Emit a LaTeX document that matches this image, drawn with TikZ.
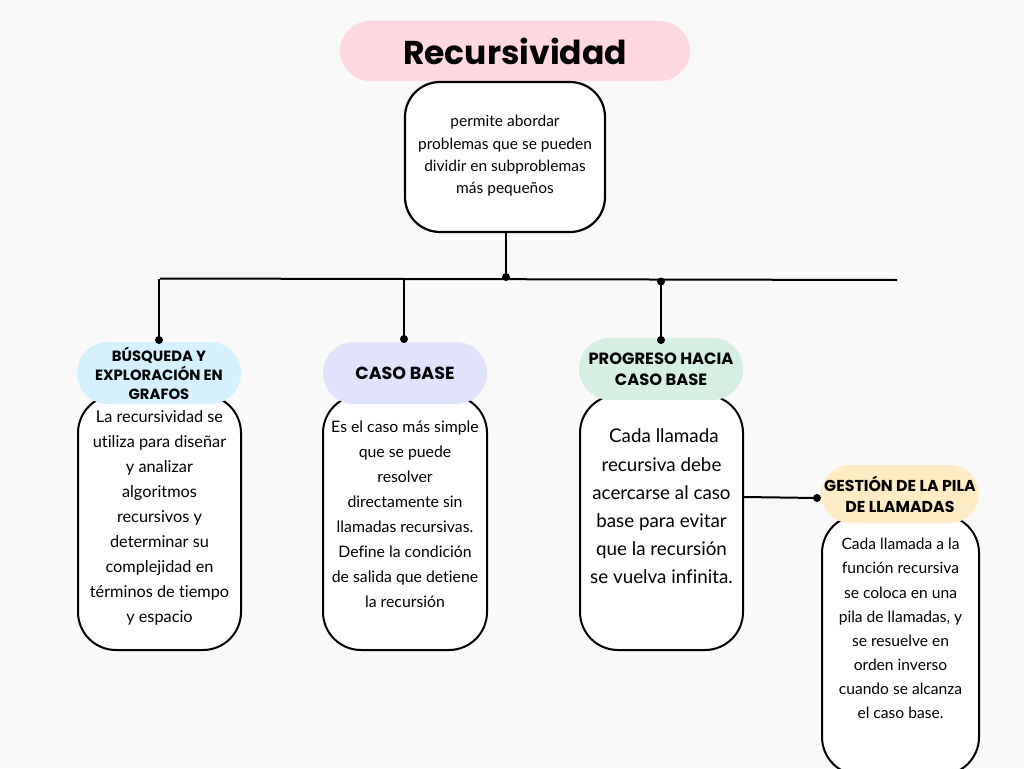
\documentclass[tikz,border=0pt]{standalone}
\usepackage{fontspec}
\setmainfont{Lato}[Ligatures=NoCommon]
\newfontfamily\headfont{Poppins}[BoldFont={* Bold}]
\usetikzlibrary{positioning}
\definecolor{bgc}{HTML}{F9F9F9}
\definecolor{pinkc}{HTML}{FFD9DF}
\definecolor{bluec}{HTML}{D4F1FD}
\definecolor{lavc}{HTML}{E1E2FB}
\definecolor{mintc}{HTML}{D6EFE3}
\definecolor{yelc}{HTML}{FEECC4}
\tikzset{
  bodybox/.style={draw=black, line width=2pt, fill=white, rounded corners=38pt, inner sep=0pt},
  pill/.style={draw=none, inner sep=0pt, align=center, font=\headfont\bfseries},
  btext/.style={align=center, inner sep=0pt},
  conn/.style={line width=2pt, black},
  dotc/.style={circle, fill=black, inner sep=0pt, minimum size=8pt},
}
\begin{document}
\begin{tikzpicture}[x=1pt,y=-1pt]
\useasboundingbox[fill=bgc] (0,0) rectangle (1024,768);
% title
\node[pill, fill=pinkc, rounded corners=30pt, minimum width=350pt, minimum height=60pt, font=\headfont\bfseries\fontsize{33}{40}\selectfont] (title) at (515,51) {Recursividad};
% top box
\node[bodybox, rounded corners=35pt, line width=2.2pt, minimum width=200pt, minimum height=150pt] (top) at (505,157) {};
\node[btext, font=\fontsize{15.5}{22.3}\selectfont] (toptext) at (505,156) {permite abordar\\problemas que se pueden\\dividir en subproblemas\\más pequeños};
% body boxes
\node[bodybox, minimum width=163pt, minimum height=255pt] (b1) at (159.5,522.5) {};
\node[bodybox, minimum width=164pt, minimum height=255pt] (b2) at (405,522.5) {};
\node[bodybox, minimum width=163pt, minimum height=255pt] (b3) at (661.5,522.5) {};
\node[bodybox, minimum width=157pt, minimum height=260pt] (b4) at (900.5,645) {};
% body texts
\node[btext, font=\fontsize{16.3}{25}\selectfont] (t1) at (159.5,518) {La recursividad se\\utiliza para diseñar\\y analizar\\algoritmos\\recursivos y\\determinar su\\complejidad en\\términos de tiempo\\y espacio};
\node[btext, font=\fontsize{15.8}{25}\selectfont] (t2) at (405,514.5) {Es el caso más simple\\que se puede\\resolver\\directamente sin\\llamadas recursivas.\\Define la condición\\de salida que detiene\\la recursión};
\node[btext, font=\fontsize{18.8}{28.2}\selectfont] (t3) at (661.5,506.5) {\ Cada llamada\\recursiva debe\\acercarse al caso\\base para evitar\\que la recursión\\se vuelva infinita.};
\node[btext, font=\fontsize{15.6}{24.1}\selectfont] (t4) at (900.5,628.5) {Cada llamada a la\\función recursiva\\se coloca en una\\pila de llamadas, y\\se resuelve en\\orden inverso\\cuando se alcanza\\el caso base.};
% header pills
\node[pill, fill=bluec, rounded corners=31pt, minimum width=164pt, minimum height=62pt, font=\headfont\bfseries\fontsize{14.8}{19}\selectfont] (h1) at (159,373) {BÚSQUEDA Y\\EXPLORACIÓN EN\\GRAFOS};
\node[pill, fill=lavc, rounded corners=31pt, minimum width=164pt, minimum height=62pt, font=\headfont\bfseries\fontsize{17.5}{20}\selectfont] (h2) at (405,373) {CASO BASE};
\node[pill, fill=mintc, rounded corners=31pt, minimum width=164pt, minimum height=62pt, font=\headfont\bfseries\fontsize{16.3}{21}\selectfont] (h3) at (661,369) {PROGRESO HACIA\\CASO BASE};
\node[pill, fill=yelc, rounded corners=29pt, minimum width=158pt, minimum height=58pt, font=\headfont\bfseries\fontsize{15.8}{21}\selectfont] (h4) at (900,494) {GESTIÓN DE LA PILA\\DE LLAMADAS};
% connectors
\coordinate (hl) at (160,278.5);
\coordinate (hr) at (897,280);
\node[dotc] (dtop) at (506,277) {};
\node[dotc] (d1) at (159,340) {};
\node[dotc] (d2) at (404,339) {};
\node[dotc] (d3a) at (661,281.5) {};
\node[dotc] (d3) at (661,340) {};
\node[dotc] (d4) at (817,498) {};
\coordinate (j1) at (159,278.5);
\coordinate (j2) at (404,279);
\draw[conn] (hl) -- (hr);
\draw[conn] (top.south -| dtop) -- (dtop.center);
\draw[conn] (j1) -- (d1.center);
\draw[conn] (j2) -- (d2.center);
\draw[conn] (d3a.center) -- (d3.center);
\draw[conn] (b3.east |- 0,497) -- (d4.center);
\end{tikzpicture}
\end{document}
